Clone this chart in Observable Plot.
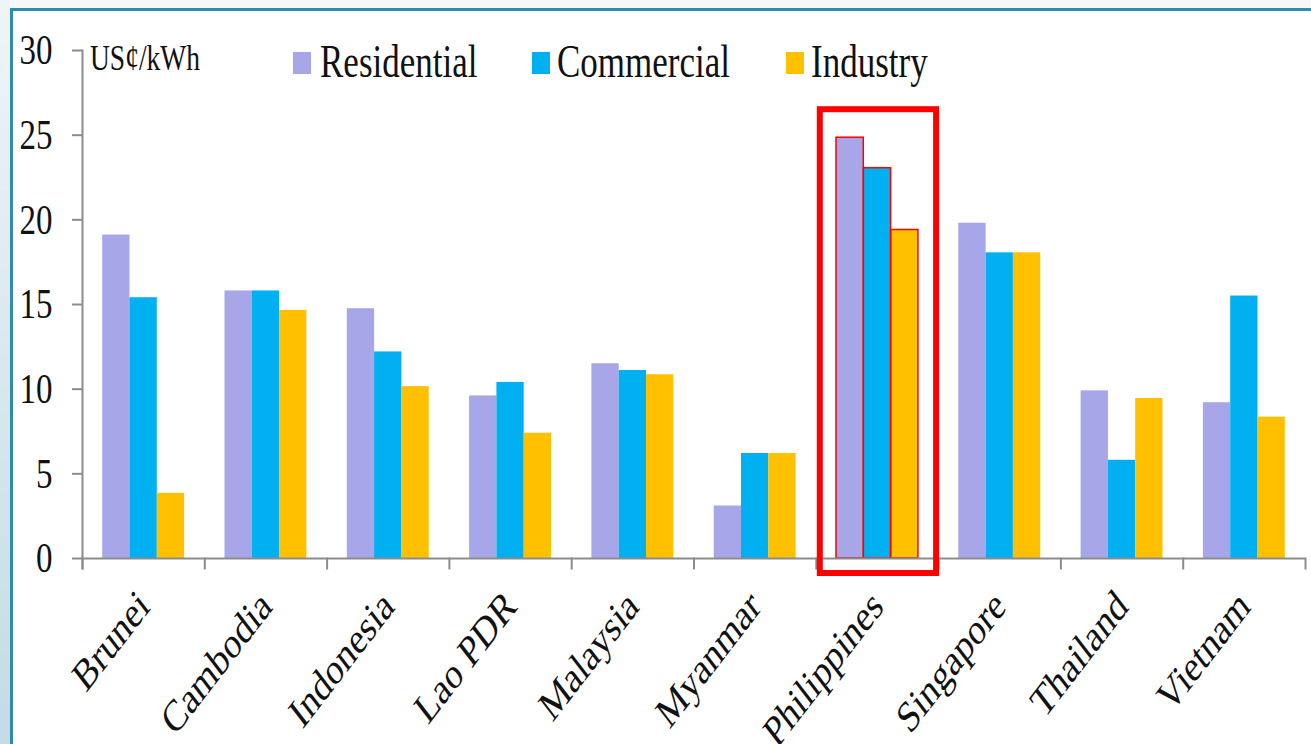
<!DOCTYPE html>
<html><head><meta charset="utf-8">
<script src="https://cdn.jsdelivr.net/npm/d3@7"></script>
<script src="https://cdn.jsdelivr.net/npm/@observablehq/plot@0.6"></script>
<style>
html,body{margin:0;padding:0;width:1311px;height:744px;overflow:hidden;background:#f4f8fa;}
#page{position:relative;width:1311px;height:744px;font-family:"Liberation Serif","Times New Roman",serif;}
#strip{position:absolute;left:0;top:0;width:10px;height:744px;background:linear-gradient(#eef5f8,#c3dbe5);}
#panel{position:absolute;left:10px;top:8px;width:1301px;height:736px;box-sizing:border-box;background:#fff;border-top:3px solid #2f8cac;border-left:3px solid #2f8cac;}
#chart{position:absolute;left:0;top:0;}
.lg{position:absolute;line-height:1;color:#111;white-space:nowrap;transform:scaleY(1.3);transform-origin:center;}
.sw{position:absolute;width:18px;height:22px;}
</style>
</head><body>
<div id="page">
  <div id="strip"></div>
  <div id="panel"></div>
  <div id="chart"></div>
  <div id="legend"></div>
</div>
<script>
const countries = ["Brunei","Cambodia","Indonesia","Lao PDR","Malaysia","Myanmar","Philippines","Singapore","Thailand","Vietnam"];
const series = ["Residential","Commercial","Industry"];
const residential = [19.1,15.8,14.75,9.6,11.5,3.1,24.85,19.8,9.9,9.2];
const commercial  = [15.4,15.8,12.2,10.4,11.1,6.2,23.05,18.05,5.8,15.5];
const industry    = [3.85,14.65,10.15,7.4,10.85,6.2,19.4,18.05,9.45,8.35];
const yTicks = [0,5,10,15,20,25,30];
const colors = ["#a6a6e8","#00b0f0","#ffc000"];
const highlight = "Philippines";
const unitLabel = "US¢/kWh";

const valuesBySeries = [residential, commercial, industry];
const rows = countries.flatMap((c, i) => series.map((s, j) => ({country: c, series: s, value: valuesBySeries[j][i]})));
const hlRows = rows.filter(d => d.country === highlight);
const hlMax = d3.max(hlRows, d => d.value);

const axisColor = "#8c8c8c";
const font = "'Liberation Serif','Times New Roman',serif";

const plot = Plot.plot({
  width: 1311, height: 744,
  marginLeft: 82, marginRight: 6, marginTop: 50, marginBottom: 186,
  style: {background: "transparent", fontFamily: font, color: "#111", overflow: "visible"},
  fx: {domain: countries, padding: 0, round: false, axis: null, label: null},
  x: {domain: series, paddingInner: 0, paddingOuter: 0.74, round: false, axis: null, label: null},
  y: {domain: [0, 30], axis: null, label: null},
  color: {domain: series, range: colors},
  marks: [
    Plot.barY(rows, {fx: "country", x: "series", y: "value", fill: "series"}),
    Plot.barY(hlRows, {fx: "country", x: "series", y: "value", fill: "none", stroke: "#ff0000", strokeWidth: 1.5}),
    Plot.ruleY([0], {stroke: axisColor, strokeWidth: 2}),
    Plot.frame({anchor: "left", insetTop: 508, insetBottom: -10, stroke: axisColor, strokeWidth: 2}),
    Plot.frame({anchor: "right", facetAnchor: "right", insetTop: 508, insetBottom: -10, stroke: axisColor, strokeWidth: 2}),
    Plot.frame({anchor: "left", facetAnchor: "left", insetBottom: -10, stroke: axisColor, strokeWidth: 2}),
    Plot.axisY({ticks: yTicks, tickSize: 10, tickPadding: 20, fontSize: 33, label: null, stroke: axisColor, strokeWidth: 2, fill: "#111", tickFormat: d => String(d)}),
    Plot.axisFx({anchor: "bottom", tickSize: 0, tickPadding: 40, tickRotate: -45, fontSize: 34, label: null, fill: "#111"}),
    Plot.rectY([highlight], {fx: d => d, y1: () => 0, y2: () => hlMax, fill: "none", stroke: "#ff0000", strokeWidth: 6,
      insetTop: -28, insetBottom: -15, insetLeft: 4, insetRight: 2})
  ]
});
document.getElementById("chart").append(plot);

const K = 1.3;
function stretchAbout(el, cy) {
  const t = el.getAttribute("transform") || "";
  el.setAttribute("transform", `translate(0,${cy}) scale(1,${K}) translate(0,${-cy}) ${t}`);
}
d3.select(plot).selectAll('g[aria-label="y-axis tick label"] text').each(function() {
  const r = this.getBoundingClientRect();
  stretchAbout(this, r.y + r.height / 2);
});
const y0 = plot.scale("y").apply(0);
d3.select(plot).selectAll('g[aria-label="fx-axis tick label"] text').each(function() {
  stretchAbout(this, y0);
});

// legend + unit label (HTML)
const legend = document.getElementById("legend");
const swX = [293, 532, 786];
const txX = [320, 557, 811];
series.forEach((s, i) => {
  const sw = document.createElement("div");
  sw.className = "sw";
  sw.style.left = swX[i] + "px"; sw.style.top = "52px"; sw.style.background = colors[i];
  legend.append(sw);
  const t = document.createElement("div");
  t.className = "lg";
  t.style.left = txX[i] + "px"; t.style.top = "45px"; t.style.fontSize = "35px";
  t.textContent = s;
  legend.append(t);
});
const u = document.createElement("div");
u.className = "lg";
u.style.left = "90px"; u.style.top = "44px"; u.style.fontSize = "27.5px";
u.textContent = unitLabel;
legend.append(u);
</script>
</body></html>
